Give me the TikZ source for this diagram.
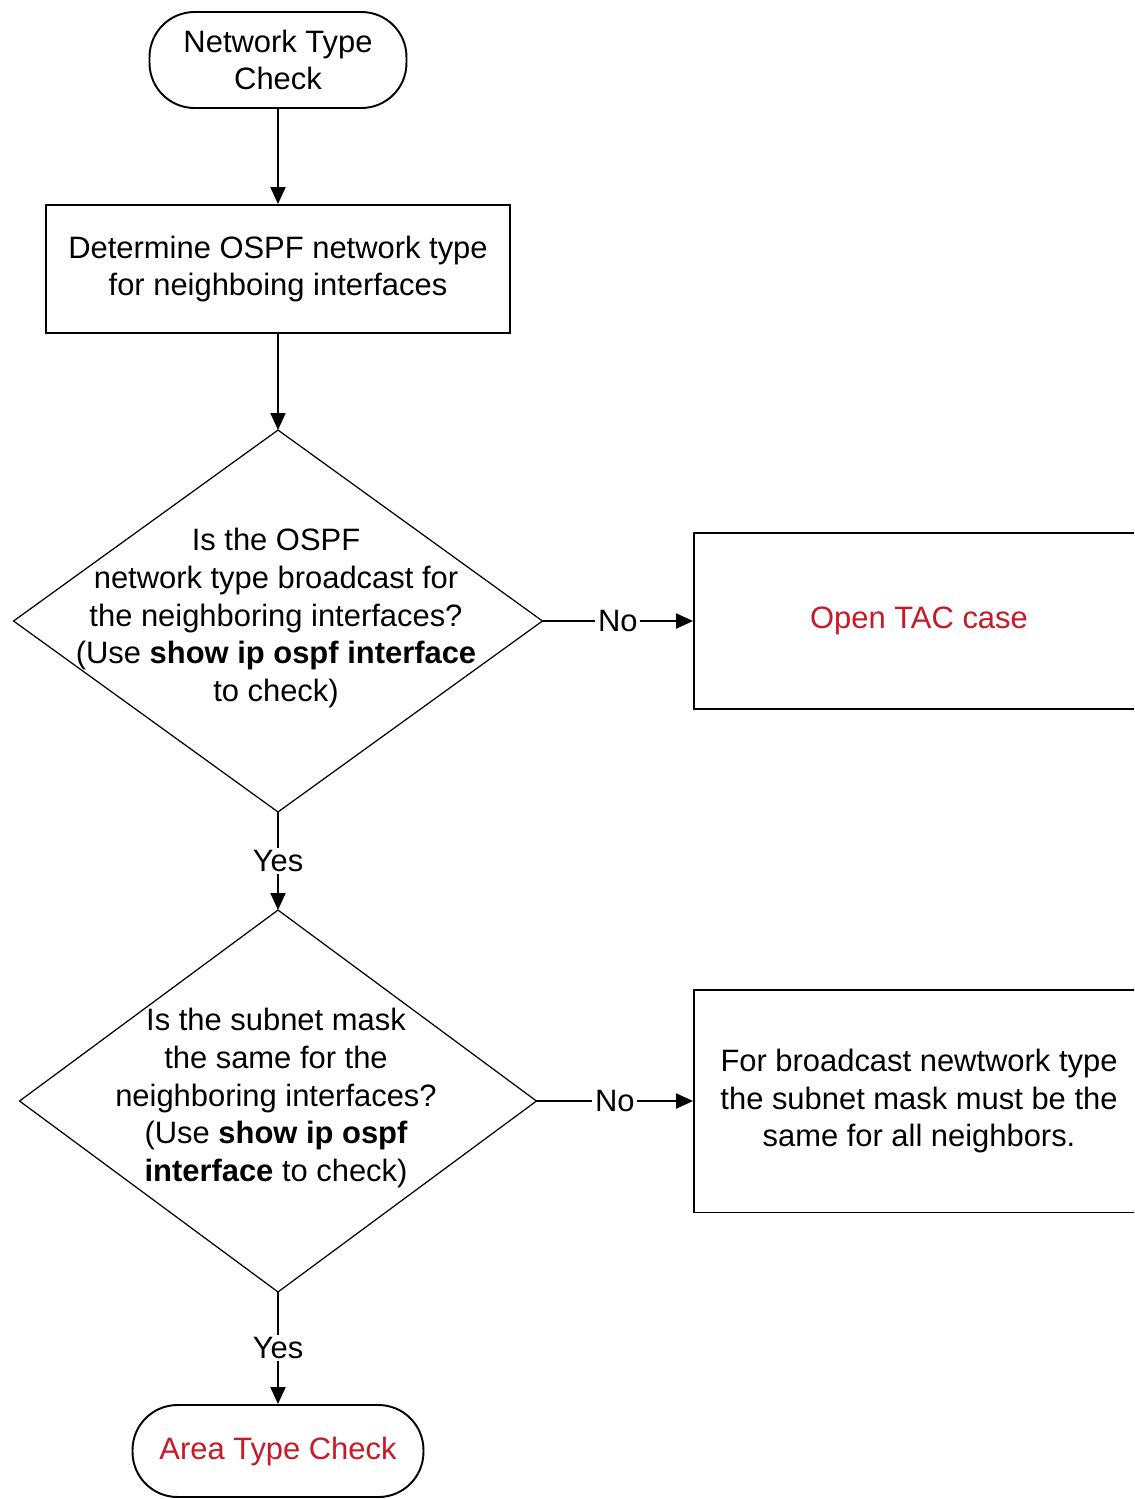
\documentclass[tikz,border=0pt]{standalone}
\usepackage{fontspec}
\setmainfont{Liberation Sans}
\usepackage{tikz}
\usetikzlibrary{shapes.geometric,arrows.meta}

\definecolor{tacred}{RGB}{200,25,40}

\begin{document}
\begin{tikzpicture}[x=0.02cm, y=-0.02cm,
    font=\fontsize{17.6}{21.5}\selectfont,
    terminal/.style={draw, line width=1.1pt, rounded corners=0.9cm, align=center},
    process/.style={draw, line width=1.1pt, align=center},
    decision/.style={draw, diamond, line width=0.7pt, inner sep=0pt, outer sep=0pt},
    arr/.style={line width=1.1pt, -{Triangle[length=3.4mm,width=3mm]}},
    lbl/.style={fill=white, inner sep=1.5pt}]
  \clip (0,0) rectangle (1134,1499);
  \fill [white] (0,0) rectangle (1134,1499);
  % flow nodes
  \node [terminal, minimum width=5.14cm, minimum height=1.92cm] (start) at (278,60) {Network Type\\Check};
  \node [process, minimum width=9.3cm, minimum height=2.56cm] (determine) at (278,269) {Determine OSPF network type\\for neighboing interfaces};
  \node [decision, minimum width=10.58cm, minimum height=7.64cm] (q1) at (278,621) {};
  \node [align=center] (q1text) at (276,618) {Is the OSPF\\network type broadcast for\\the neighboring interfaces?\\(Use \textbf{show ip ospf interface}\\to check)};
  \node [process, minimum width=9cm, minimum height=3.52cm, text=tacred] (tac) at (919,621) {Open TAC case};
  \node [decision, minimum width=10.34cm, minimum height=7.64cm] (q2) at (278,1101) {};
  \node [align=center] (q2text) at (276,1098) {Is the subnet mask\\the same for the\\neighboring interfaces?\\(Use \textbf{show ip ospf}\\\textbf{interface} to check)};
  \node [process, minimum width=9cm, minimum height=4.46cm] (mask) at (919,1101) {For broadcast newtwork type\\the subnet mask must be the\\same for all neighbors.};
  \node [terminal, minimum width=5.82cm, minimum height=1.84cm, text=tacred] (finish) at (278,1451) {Area Type Check};
  % connectors
  \draw [arr] (start) -- (determine);
  \draw [arr] (determine) -- (q1);
  \draw [arr] (q1) -- node [lbl] {No} (tac);
  \draw [arr] (q1) -- node [lbl] {Yes} (q2);
  \draw [arr] (q2) -- node [lbl] {No} (mask);
  \draw [arr] (q2) -- node [lbl] {Yes} (finish);
\end{tikzpicture}
\end{document}
